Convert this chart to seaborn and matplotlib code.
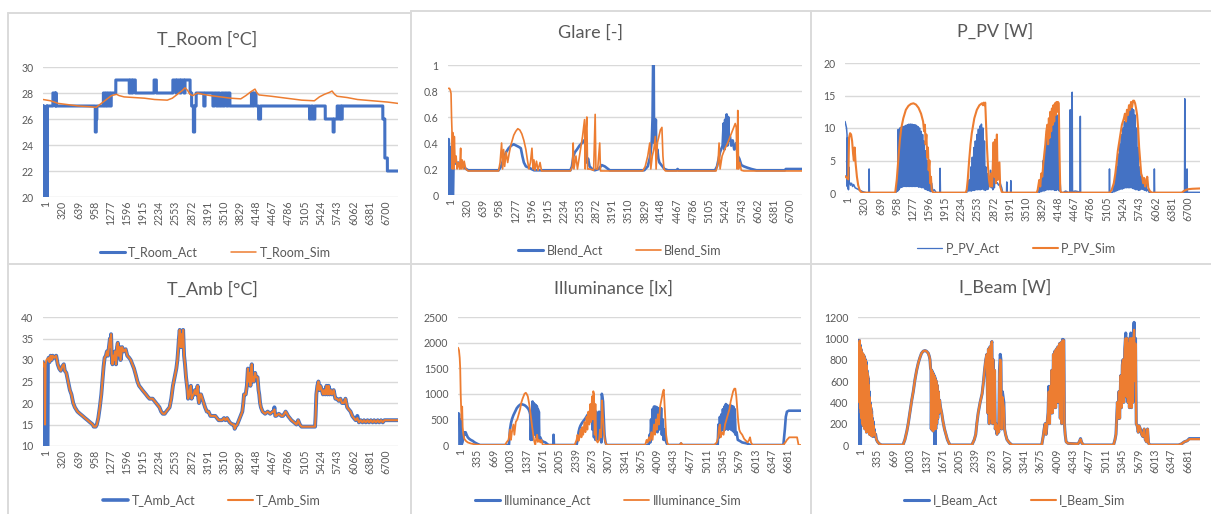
import matplotlib
matplotlib.use("Agg")
import matplotlib.pyplot as plt
import seaborn as sns
from matplotlib.lines import Line2D
from matplotlib.transforms import ScaledTranslation

# ---------------- data (sample index, value) ----------------
troom_act = [(1,27),(5,27),(6,26),(12,26),(13,27),(18,27),(19,20),(70,20),(71,27),(75,27),(76,20),(85,20),(86,27),
    (195,27),(196,28),(240,28),(241,27),(250,27),(251,28),(260,28),(261,27),
    (1030,27),(1031,25),(1050,25),(1051,26),(1062,26),(1063,27),
    (1190,27),(1191,28),(1215,28),(1216,27),(1240,27),(1241,28),(1265,28),(1266,27),(1290,27),(1291,28),(1320,28),(1321,27),(1345,27),(1346,28),
    (1435,28),(1436,29),(1700,29),(1701,28),(1720,28),(1721,29),(1750,29),(1751,28),(1770,28),(1771,29),(1820,29),(1821,28),
    (2190,28),(2191,29),(2235,29),(2236,28),
    (2560,28),(2561,29),(2620,29),(2621,28),(2640,28),(2641,29),(2700,29),(2701,28),(2720,28),(2721,29),(2780,29),(2781,28),(2800,28),(2801,29),(2900,29),(2901,28),
    (2930,28),(2931,27),(2965,27),(2966,25),(2990,25),(2991,27),(3020,27),(3021,28),
    (3170,28),(3171,27),(3195,27),(3196,28),
    (3350,28),(3351,27),(3380,27),(3381,28),(3420,28),(3421,27),(3450,27),(3451,28),(3480,28),(3481,27),(3520,27),(3521,28),(3550,28),(3551,27),(3580,27),(3581,28),(3620,28),(3621,27),(3650,27),(3651,28),(3685,28),(3686,27),
    (4110,27),(4111,28),(4140,28),(4141,27),(4160,27),(4161,28),(4200,28),(4201,27),
    (4250,27),(4251,26),(4290,26),(4291,27),
    (5255,27),(5256,26),(5290,26),(5291,27),(5320,27),(5321,26),(5360,26),(5361,27),(5390,27),
    (5565,27),(5566,26),(5720,26),(5721,25),(5740,25),(5741,26),(5800,26),(5801,27),(5830,27),(5831,26),(5860,26),(5861,27),(5880,27),(5881,26),(5900,26),(5901,27),
    (6700,27),(6701,26),(6740,26),(6741,23),(6790,23),(6791,22),(7000,22)]

troom_sim = [(1,27.5),(150,27.4),(300,27.2),(500,27.1),(700,27.0),(900,26.95),(1050,26.9),(1150,27.2),(1250,27.5),(1350,27.8),
    (1450,27.9),(1500,27.8),(1600,27.7),(1800,27.65),(2000,27.6),(2200,27.5),(2450,27.45),(2550,27.6),(2650,27.9),(2750,28.2),
    (2800,28.4),(2850,28.2),(2900,27.9),(2950,27.8),(3050,28.0),(3150,27.9),(3300,27.8),(3500,27.7),(3700,27.6),(3900,27.55),
    (4000,27.8),(4100,28.1),(4180,28.3),(4220,28.0),(4260,27.85),(4500,27.75),(4800,27.6),(5100,27.45),(5350,27.4),(5450,27.7),
    (5550,27.9),(5650,28.05),(5700,28.15),(5750,27.9),(5800,27.75),(6000,27.65),(6200,27.5),(6500,27.4),(6800,27.3),(7000,27.2)]

glare_act = [(1,0.19),(10,0.19),(14,0.43),(20,0.37),(26,0.0),(30,0.37),(34,0.0),(40,0.35),(46,0.0),(52,0.3),(58,0.0),(64,0.3),(70,0.0),
    (76,0.25),(82,0.0),(100,0.0),(110,0.25),(130,0.26),(160,0.24),(200,0.25),(260,0.23),(320,0.21),(400,0.19),
    (1000,0.19),(1050,0.22),(1100,0.28),(1150,0.33),(1200,0.36),(1250,0.38),(1300,0.39),(1350,0.38),(1400,0.37),(1440,0.36),
    (1470,0.3),(1500,0.25),(1540,0.22),(1600,0.21),(1700,0.19),
    (2420,0.19),(2450,0.22),(2480,0.3),(2510,0.33),(2550,0.35),(2600,0.38),(2650,0.40),(2690,0.42),(2720,0.38),(2740,0.25),
    (2770,0.28),(2800,0.22),(2850,0.2),(2900,0.19),(2980,0.2),(3040,0.23),(3100,0.22),(3200,0.19),
    (3880,0.19),(3950,0.22),(4000,0.3),(4030,0.42),(4045,0.6),(4055,1.0),(4068,1.0),(4075,0.4),(4085,0.58),(4100,0.45),(4110,0.58),
    (4120,0.3),(4140,0.35),(4160,0.28),(4180,0.25),(4220,0.23),(4280,0.2),(4350,0.19),(4520,0.19),(4540,0.2),(4560,0.19),
    (5280,0.19),(5320,0.22),(5380,0.33),(5430,0.38),(5450,0.55),(5465,0.35),(5480,0.58),(5495,0.4),(5510,0.62),(5525,0.38),
    (5540,0.6),(5555,0.42),(5575,0.45),(5600,0.38),(5630,0.42),(5660,0.35),(5700,0.4),(5730,0.3),(5760,0.28),(5800,0.23),
    (5850,0.22),(5920,0.21),(6000,0.2),(6100,0.19),(6660,0.19),(6680,0.2),(7000,0.2)]

glare_sim = [(1,0.82),(30,0.82),(50,0.80),(60,0.78),(70,0.6),(78,0.5),(85,0.2),(95,0.48),(105,0.45),(115,0.2),(125,0.45),(140,0.25),
    (160,0.3),(180,0.2),(200,0.25),(230,0.2),(250,0.36),(260,0.2),(280,0.27),(300,0.2),(320,0.26),(350,0.2),(400,0.185),
    (1000,0.185),(1030,0.25),(1060,0.4),(1080,0.2),(1100,0.35),(1120,0.22),(1150,0.33),(1180,0.25),(1210,0.32),(1240,0.38),
    (1270,0.42),(1300,0.46),(1340,0.49),(1380,0.51),(1420,0.5),(1460,0.47),(1500,0.42),(1540,0.35),(1570,0.27),(1600,0.2),
    (1630,0.25),(1660,0.36),(1680,0.2),(1700,0.27),(1720,0.19),(1750,0.26),(1780,0.19),(1820,0.25),(1850,0.185),
    (2420,0.185),(2460,0.22),(2475,0.4),(2490,0.2),(2530,0.3),(2560,0.2),(2620,0.35),(2660,0.45),(2700,0.58),(2712,0.2),
    (2730,0.5),(2745,0.6),(2760,0.2),(2800,0.2),(2880,0.19),(2910,0.62),(2925,0.2),(2960,0.2),(3000,0.4),(3015,0.185),(3100,0.185),
    (3850,0.185),(3900,0.22),(3950,0.3),(3990,0.4),(4010,0.2),(4040,0.3),(4070,0.35),(4100,0.45),(4115,0.2),(4140,0.4),
    (4170,0.45),(4200,0.5),(4230,0.52),(4250,0.3),(4270,0.2),(4300,0.185),
    (5300,0.185),(5340,0.25),(5360,0.4),(5380,0.2),(5420,0.3),(5470,0.35),(5530,0.4),(5580,0.45),(5630,0.5),(5680,0.55),
    (5700,0.52),(5715,0.2),(5730,0.65),(5745,0.2),(5770,0.25),(5800,0.19),(5850,0.185),(7000,0.185)]

pv_act = [(1,11),(15,10.5),(30,10),(40,9),(45,1),(50,8.5),(55,0.8),(62,7),(68,0.5),(75,4),(82,1.5),(95,1.6),(110,1.2),(130,1.5),
    (150,1.0),(170,1.3),(200,0.8),(250,0.6),(300,0.4),(350,0.2),(420,0.05),(470,0.05),(475,3.7),(482,0.05),
    (1000,0.05),(1020,0.3),(1030,2),(1040,0.3),(1050,9.8),(1065,0.5),(1080,10),(1095,0.8),(1110,10.1),(1125,0.9),(1140,10.2),
    (1155,1),(1170,10.3),(1185,1),(1200,10.4),(1215,1),(1230,10.5),(1245,1),(1260,10.6),(1275,1),(1290,10.6),(1305,1),
    (1320,10.6),(1335,1),(1350,10.5),(1365,1),(1380,10.5),(1395,1),(1410,10.4),(1425,1),(1440,10.2),(1455,0.9),(1470,10),
    (1485,0.9),(1500,9.5),(1515,0.8),(1530,9),(1545,0.8),(1560,8),(1575,0.6),(1590,6.5),(1605,0.5),(1620,5),(1635,0.4),
    (1650,3.5),(1665,0.3),(1680,2.5),(1695,0.2),(1710,1.5),(1730,0.3),(1760,0.5),(1800,0.05),(1870,0.05),(1875,3.8),(1882,0.05),
    (2400,0.05),(2420,1),(2435,0.3),(2450,2),(2465,0.3),(2480,4),(2495,0.3),(2510,5.5),(2525,0.4),(2540,7),(2555,0.4),
    (2570,8),(2585,0.5),(2600,9),(2615,0.5),(2630,9.8),(2645,0.5),(2660,10.3),(2675,0.5),(2690,10.6),(2705,0.6),(2720,10),
    (2735,0.5),(2750,8),(2765,0.4),(2780,4),(2795,0.5),(2810,3),(2825,0.6),(2840,2),(2855,1),(2870,3.5),(2885,0.8),
    (2900,1.5),(2915,0.5),(2930,3),(2945,0.8),(2960,2.5),(2975,1.5),(3000,1.6),(3030,1.2),(3060,1.5),(3090,0.8),(3110,0.05),
    (3185,0.05),(3190,1.7),(3196,0.05),(3265,0.05),(3270,1.9),(3276,0.05),
    (3800,0.05),(3820,0.5),(3835,0.1),(3850,1.5),(3865,0.2),(3880,3),(3895,0.3),(3910,5),(3925,0.3),(3940,7),(3955,0.4),
    (3970,9),(3985,0.5),(4000,10),(4015,0.5),(4030,11),(4045,0.5),(4060,12),(4075,0.5),(4090,12),(4105,0.5),(4120,12),
    (4135,0.4),(4150,12),(4165,0.4),(4180,12),(4195,0.5),(4210,11),(4225,0.3),(4240,2),(4255,0.1),(4300,0.05),(4350,0.3),
    (4400,0.1),(4435,0.1),(4440,12.8),(4446,0.2),(4475,0.2),(4480,15.5),(4486,0.2),(4540,0.3),(4600,0.2),(4635,0.05),
    (4640,11.8),(4646,0.05),
    (5210,0.05),(5215,3.7),(5221,0.05),(5280,0.1),(5300,1),(5315,0.2),(5330,2.5),(5345,0.3),(5360,4),(5375,0.4),(5390,6),
    (5405,0.5),(5420,7.5),(5435,0.6),(5450,9),(5465,0.6),(5480,10),(5495,0.7),(5510,11),(5525,0.8),(5540,12),(5555,0.8),
    (5570,12.5),(5585,0.8),(5600,13),(5615,0.8),(5630,13),(5645,0.8),(5660,13),(5675,0.7),(5690,12.8),(5705,0.6),(5720,12),
    (5735,0.5),(5750,10),(5765,0.5),(5780,7),(5795,0.4),(5810,4),(5825,0.5),(5840,2.5),(5855,0.6),(5870,2),(5885,0.5),
    (5900,1.8),(5915,0.4),(5930,1.5),(5945,0.3),(5970,0.6),(6000,0.05),(6095,0.05),(6100,3.7),(6106,0.05),
    (6695,0.05),(6700,14.5),(6706,0.1),(6740,0.1),(6745,3.7),(6751,0.1),(7000,0.1)]

pv_sim = [(1,2.6),(40,2.3),(65,2.1),(80,8.5),(100,9.2),(120,9),(140,8),(160,6),(175,5),(190,7),(210,4.5),(235,2.5),(260,1.2),
    (290,0.4),(330,0.05),
    (990,0.05),(1020,2),(1050,5),(1080,8),(1110,10),(1150,11.5),(1200,12.8),(1250,13.4),(1300,13.7),(1350,13.8),(1400,13.6),
    (1450,13.1),(1500,12.2),(1540,11),(1560,9.5),(1575,10.5),(1590,7.5),(1605,9),(1620,5.5),(1635,7),(1650,3.5),(1665,5),
    (1680,1.5),(1695,2.5),(1710,0.5),(1740,0.05),
    (2380,0.05),(2400,0.5),(2420,2),(2448,5),(2475,7.5),(2500,9.2),(2550,11.5),(2600,12.8),(2650,13.5),(2700,13.8),(2720,13.5),
    (2735,13.9),(2750,13.5),(2765,13.9),(2780,11),(2800,7),(2820,4),(2840,2),(2860,1),(2880,3),(2900,1),(2930,7.8),(2945,2.5),
    (2960,8.2),(2975,1.5),(2995,9),(3010,2),(3045,4.7),(3060,1),(3090,0.2),(3120,0.05),
    (3780,0.05),(3800,0.5),(3830,2),(3850,1),(3870,3),(3890,2.5),(3910,4.5),(3930,6),(3950,7.5),(3970,9.5),(3990,10.5),
    (4005,7.5),(4020,11.5),(4035,8.5),(4050,12.5),(4065,9.5),(4080,13),(4095,10.5),(4110,13.5),(4125,11),(4140,13.8),
    (4155,12),(4170,14),(4185,12.5),(4200,14),(4215,13.8),(4230,6),(4245,0.3),(4270,0.05),
    (5220,0.05),(5260,0.5),(5300,1.5),(5330,3),(5360,5),(5380,6.5),(5400,7.5),(5420,8.5),(5440,9.5),(5460,10.5),(5480,11),
    (5500,11.5),(5520,12.2),(5540,11),(5560,12.8),(5580,12),(5600,13.5),(5620,12.8),(5640,14),(5660,13.2),(5680,14.2),
    (5700,14.2),(5720,13.8),(5740,13),(5760,12),(5780,10),(5800,7),(5820,5),(5840,3),(5860,2.5),(5880,1.5),(5900,2.3),
    (5920,1),(5940,1.8),(5960,2.5),(5980,0.8),(6010,0.3),(6050,0.05),
    (6640,0.05),(6680,0.3),(6730,0.5),(6780,0.6),(6850,0.65),(7000,0.7)]

tamb_act = [(1,29.5),(20,28.5),(30,29),(38,10),(90,10),(96,29),(110,30.5),(130,29.5),(150,31),(170,30),(190,31),(220,30.5),
    (260,31),(290,29),(320,28),(350,27.5),(380,28.5),(410,29),(430,27.5),(460,27),(495,25),(530,23),(561,22),(595,20),(628,19),
    (680,18),(728,17.5),(780,17),(828,16.5),(880,16),(928,15.5),(980,15),(1000,14.5),(1040,14.5),(1062,15),(1090,16.5),
    (1120,19),(1150,22),(1170,25),(1195,28.5),(1215,30.5),(1240,31),(1260,32),(1280,31),(1300,33),(1320,35),(1335,33),
    (1342,36),(1355,31),(1370,29),(1385,31),(1400,30),(1420,32),(1440,29),(1460,33),(1475,34),(1490,31),(1510,33),(1530,30),
    (1560,33),(1590,32),(1630,32.5),(1662,31),(1700,30.5),(1729,30),(1762,29),(1795,28),(1830,26.5),(1862,25),(1895,24),
    (1929,23.5),(1960,23),(1995,22.5),(2030,22),(2062,21.5),(2100,21),(2162,21),(2229,20),(2260,19.5),(2296,19),(2330,18),
    (2362,17.5),(2400,17.5),(2429,18),(2462,18.5),(2496,19),(2529,21),(2562,24),(2595,26),(2629,28),(2650,30),(2663,32),
    (2680,35),(2696,37),(2715,33),(2730,36),(2745,33),(2763,37),(2782,31),(2800,29),(2820,26),(2849,23),(2860,21),(2876,21.5),
    (2895,23),(2916,24),(2930,21),(2943,21.5),(2970,22),(2996,23),(3020,22),(3049,24),(3063,21),(3076,20),(3100,22),(3116,22),
    (3143,21),(3170,20),(3196,19),(3230,18),(3264,18),(3300,17),(3330,17),(3397,17),(3430,16.5),(3463,16),(3530,16),
    (3570,16.5),(3597,16),(3630,16.5),(3680,15.5),(3730,15),(3764,15),(3780,14),(3797,14.5),(3830,15),(3864,16),(3897,17),
    (3930,18),(3950,20),(3964,22),(3997,22),(4020,24),(4040,28),(4055,25),(4070,27),(4090,24),(4105,28),(4117,29),(4130,25),
    (4143,26),(4160,25),(4183,27),(4200,26),(4230,26),(4250,23),(4264,22),(4280,20),(4297,19),(4330,18),(4380,17.5),
    (4430,18),(4480,17.5),(4530,18),(4550,18),(4563,19),(4580,17),(4597,17),(4650,17.5),(4700,17),(4731,17),(4760,17.5),
    (4784,18),(4810,17.5),(4831,17),(4865,16.5),(4898,16),(4950,15.5),(4998,15),(5031,16),(5064,15),(5098,14.5),(5150,14.5),
    (5200,14.5),(5250,14.5),(5300,14.5),(5364,14.5),(5375,17),(5390,22),(5410,24),(5431,25),(5450,23),(5470,24),(5497,23),
    (5520,22),(5545,23),(5564,22),(5590,24),(5610,22),(5631,24),(5650,22),(5675,23),(5698,22),(5731,23),(5765,21),(5798,21),
    (5830,20.5),(5864,21),(5897,20),(5931,20),(5964,21),(5998,19),(6030,18.5),(6065,18),(6098,17),(6130,16.5),(6165,16),
    (6198,17),(6230,15.5),(6265,16),(6300,15.5),(6330,16),(6365,15.5),(6399,16),(6430,15.5),(6465,16),(6500,15.5),(6530,16),
    (6565,15.5),(6600,16),(6630,15.5),(6665,16),(6700,15.5),(6732,16),(7000,16)]

tamb_sim = [(1,29.5),(20,28.5),(30,29),(40,15),(50,29),(70,30),(110,30.5),(130,29.5),(150,31),(170,30),(190,31),(220,30.5),
    (260,31),(290,29),(320,28),(350,27.5),(380,28.5),(410,29),(430,27.5),(460,27),(495,25),(530,23),(561,22),(595,20),(628,19),
    (680,18),(728,17.5),(780,17),(828,16.5),(880,16),(928,15.5),(980,15),(1000,14.5),(1040,14.5),(1062,15),(1090,16.5),
    (1120,19),(1150,22),(1170,25),(1195,28.5),(1215,30.5),(1240,31),(1260,32),(1280,31),(1300,33),(1320,35),(1335,33),
    (1342,36),(1355,31),(1370,29),(1385,31),(1400,30),(1420,32),(1440,29),(1460,33),(1475,34),(1490,31),(1510,33),(1530,30),
    (1560,33),(1590,32),(1630,32.5),(1662,31),(1700,30.5),(1729,30),(1762,29),(1795,28),(1830,26.5),(1862,25),(1895,24),
    (1929,23.5),(1960,23),(1995,22.5),(2030,22),(2062,21.5),(2100,21),(2162,21),(2229,20),(2260,19.5),(2296,19),(2330,18),
    (2362,17.5),(2400,17.5),(2429,18),(2462,18.5),(2496,19),(2529,21),(2562,24),(2595,26),(2629,28),(2650,30),(2663,32),
    (2680,35),(2696,37),(2715,33),(2730,36),(2745,33),(2763,37),(2782,31),(2800,29),(2820,26),(2849,23),(2860,21),(2876,21.5),
    (2895,23),(2916,24),(2930,21),(2943,21.5),(2970,22),(2996,23),(3020,22),(3049,24),(3063,21),(3076,20),(3100,22),(3116,22),
    (3143,21),(3170,20),(3196,19),(3230,18),(3264,18),(3300,17),(3330,17),(3397,17),(3430,16.5),(3463,16),(3530,16),
    (3570,16.5),(3597,16),(3630,16.5),(3680,15.5),(3730,15),(3764,15),(3780,14),(3797,14.5),(3830,15),(3864,16),(3897,17),
    (3930,18),(3950,20),(3964,22),(3997,22),(4020,24),(4040,28),(4055,25),(4070,27),(4090,24),(4105,28),(4117,29),(4130,25),
    (4143,26),(4160,25),(4183,27),(4200,26),(4230,26),(4250,23),(4264,22),(4280,20),(4297,19),(4330,18),(4380,17.5),
    (4430,18),(4480,17.5),(4530,18),(4550,18),(4563,18.5),(4580,17),(4597,17),(4650,17.5),(4700,17),(4731,17),(4760,17.5),
    (4784,18),(4810,17.5),(4831,17),(4865,16.5),(4898,16),(4950,15.5),(4998,15),(5031,16),(5064,15),(5098,14.5),(5150,14.5),
    (5200,14.5),(5250,14.5),(5300,14.5),(5364,14.5),(5375,17),(5390,22),(5410,24),(5431,25),(5450,23),(5470,24),(5497,23),
    (5520,22),(5545,23),(5564,22),(5590,24),(5610,22),(5631,24),(5650,22),(5675,23),(5698,22),(5731,23),(5765,21),(5798,21),
    (5830,20.5),(5864,21),(5897,20),(5931,20),(5964,21),(5998,19),(6030,18.5),(6065,18),(6098,17),(6130,16.5),(6165,16),
    (6198,16.5),(6230,15.5),(6265,16),(6300,15.5),(6330,16),(6365,15.5),(6399,16),(6430,15.5),(6465,16),(6500,15.5),(6530,16),
    (6565,15.5),(6600,16),(6630,15.5),(6665,16),(6700,15.5),(6732,16),(7000,16)]

illum_act = [(1,550),(10,620),(25,600),(32,0),(45,0),(50,500),(62,480),(70,0),(90,50),(110,150),(125,250),(140,200),(155,250),
    (175,200),(200,150),(230,120),(260,100),(300,80),(340,50),(400,20),(450,0),
    (1040,0),(1060,300),(1080,420),(1100,500),(1130,580),(1165,650),(1200,720),(1234,760),(1270,790),(1302,795),(1340,785),
    (1371,770),(1405,740),(1439,700),(1460,650),(1473,600),(1485,100),(1500,500),(1510,100),(1521,850),(1532,300),(1542,820),
    (1552,200),(1562,800),(1575,250),(1590,780),(1600,150),(1610,750),(1620,180),(1631,700),(1640,100),(1650,650),(1660,120),
    (1679,150),(1700,100),(1713,80),(1750,60),(1782,50),(1820,20),(1850,0),(1945,0),(1950,200),(1958,0),
    (2420,0),(2440,100),(2460,250),(2480,330),(2500,380),(2530,430),(2570,480),(2600,520),(2638,580),(2670,620),(2707,680),
    (2730,700),(2745,300),(2760,660),(2775,150),(2790,700),(2805,100),(2820,650),(2835,150),(2850,500),(2865,100),(2880,650),
    (2895,200),(2912,500),(2925,50),(2935,1000),(2945,950),(2960,850),(2975,500),(2990,200),(3010,50),(3030,0),
    (3890,0),(3910,200),(3925,50),(3940,500),(3955,150),(3970,700),(3985,300),(4000,750),(4015,250),(4028,750),(4042,300),
    (4056,740),(4070,250),(4085,720),(4100,300),(4115,700),(4130,350),(4145,720),(4160,200),(4179,500),(4195,100),(4210,300),
    (4234,100),(4260,30),(4282,0),(4530,0),(4550,30),(4570,0),
    (5300,0),(5315,400),(5330,150),(5345,550),(5360,250),(5377,600),(5392,300),(5407,700),(5422,280),(5437,750),(5452,300),
    (5467,800),(5482,320),(5497,780),(5512,300),(5527,750),(5542,320),(5557,780),(5572,300),(5587,760),(5603,280),(5618,750),
    (5633,250),(5648,700),(5665,200),(5686,250),(5710,100),(5750,80),(5800,50),(5850,40),(5900,30),(5960,0),
    (6640,0),(6670,300),(6690,550),(6713,650),(6750,670),(7000,670)]

illum_sim = [(1,1900),(20,1850),(35,1700),(45,1500),(55,1000),(65,700),(75,500),(85,750),(95,350),(110,200),(130,120),(160,80),
    (200,50),(260,30),(350,10),(450,0),
    (960,0),(990,50),(1030,100),(1063,300),(1080,100),(1100,250),(1131,400),(1150,200),(1179,450),(1210,500),(1240,600),
    (1268,700),(1290,820),(1316,900),(1340,960),(1357,1000),(1384,1020),(1405,990),(1425,950),(1453,800),(1475,650),(1494,500),
    (1510,380),(1528,250),(1550,100),(1576,0),(1600,150),(1615,200),(1630,60),(1650,100),(1680,50),(1700,100),(1730,0),
    (2380,0),(2420,100),(2440,200),(2460,80),(2480,150),(2500,300),(2520,150),(2535,350),(2555,200),(2580,450),(2600,250),
    (2625,550),(2640,300),(2660,650),(2680,400),(2700,800),(2715,450),(2735,950),(2750,500),(2761,1050),(2775,1000),(2790,200),
    (2805,800),(2820,100),(2850,50),(2880,100),(2900,300),(2920,150),(2940,870),(2955,600),(2975,300),(2995,100),(3030,0),
    (3820,0),(3850,100),(3870,50),(3900,150),(3920,80),(3945,250),(3970,100),(4000,400),(4020,200),(4042,500),(4060,300),
    (4080,600),(4100,400),(4124,750),(4145,850),(4165,950),(4185,1050),(4200,1080),(4215,800),(4230,500),(4247,200),(4270,50),
    (4290,0),(4530,0),(4555,40),(4580,0),
    (5230,0),(5280,50),(5310,150),(5330,350),(5345,400),(5360,150),(5390,250),(5420,200),(5450,400),(5480,500),(5510,600),
    (5540,700),(5565,850),(5590,950),(5615,1050),(5640,1100),(5660,1100),(5680,950),(5700,700),(5720,450),(5740,300),
    (5760,250),(5800,200),(5840,120),(5880,80),(5910,50),(5940,100),(5960,150),(5980,50),(6010,0),
    (6640,0),(6680,50),(6713,100),(6760,150),(6880,150),(6920,150),(6950,0),(7000,0)]

ibeam_act = [(1,980),(8,750),(12,950),(18,450),(22,0),(28,980),(34,300),(40,940),(46,0),(52,0),(58,900),(64,250),(70,880),
    (78,200),(86,860),(94,220),(102,850),(110,180),(118,840),(126,200),(134,820),(142,150),(150,800),(158,180),(166,780),
    (174,120),(182,700),(190,200),(198,650),(206,150),(214,620),(222,120),(230,500),(238,100),(246,400),(254,120),(262,350),
    (270,90),(278,320),(286,100),(294,250),(302,80),(310,220),(320,100),(330,150),(345,80),(360,100),(378,50),(400,30),
    (440,10),(480,0),
    (920,0),(960,50),(1000,130),(1028,200),(1060,300),(1100,420),(1131,500),(1165,610),(1200,700),(1235,770),(1268,820),
    (1300,860),(1336,880),(1370,885),(1400,880),(1439,860),(1460,830),(1473,800),(1485,720),(1494,700),(1500,150),(1510,700),
    (1520,140),(1530,680),(1540,130),(1550,660),(1560,150),(1570,640),(1576,0),(1582,620),(1592,150),(1602,600),(1612,200),
    (1622,560),(1632,250),(1645,500),(1658,300),(1670,420),(1690,350),(1713,300),(1740,220),(1770,150),(1800,100),(1830,50),
    (1860,20),(1884,0),
    (2330,0),(2380,50),(2410,100),(2432,200),(2460,300),(2500,400),(2540,480),(2570,600),(2590,700),(2615,800),(2638,850),
    (2655,300),(2670,900),(2685,200),(2700,920),(2715,250),(2730,950),(2741,970),(2755,200),(2765,800),(2780,250),(2795,700),
    (2809,150),(2825,200),(2845,100),(2860,180),(2880,120),(2895,700),(2912,850),(2925,800),(2940,150),(2955,500),(2970,450),
    (2985,400),(3000,150),(3020,100),(3050,50),(3100,20),(3152,0),
    (3760,0),(3790,80),(3810,150),(3830,200),(3850,100),(3870,200),(3890,300),(3905,550),(3920,200),(3935,550),(3950,300),
    (3965,700),(3980,300),(4000,850),(4014,350),(4030,880),(4045,350),(4060,900),(4075,400),(4090,920),(4105,400),(4124,950),
    (4140,250),(4155,960),(4170,200),(4185,990),(4200,980),(4213,985),(4225,200),(4240,100),(4260,30),(4300,15),(4500,10),
    (4530,30),(4555,60),(4580,20),(4620,0),
    (5230,0),(5260,50),(5280,100),(5300,300),(5309,400),(5325,250),(5340,500),(5355,250),(5377,650),(5392,350),(5410,750),
    (5425,800),(5440,400),(5460,900),(5480,1050),(5495,450),(5510,1000),(5525,400),(5540,950),(5555,350),(5570,1000),
    (5583,1050),(5598,350),(5612,1000),(5626,400),(5640,1050),(5651,1150),(5665,600),(5680,1000),(5695,200),(5715,180),
    (5735,120),(5754,180),(5780,150),(5805,100),(5830,80),(5857,150),(5880,50),(5905,30),(5926,150),(5945,20),(5970,0),
    (6560,0),(6620,10),(6680,30),(6740,40),(6781,60),(7000,60)]

ibeam_sim = [(1,950),(8,750),(12,950),(18,450),(24,900),(30,400),(36,980),(42,350),(50,920),(58,300),(64,900),(70,250),
    (78,870),(86,200),(94,860),(102,180),(110,850),(118,200),(126,830),(134,150),(142,810),(150,180),(158,790),(166,120),
    (174,750),(182,200),(190,680),(198,150),(206,640),(214,120),(222,560),(230,100),(238,450),(246,120),(254,380),(262,90),
    (270,330),(278,100),(286,280),(294,80),(302,230),(310,100),(320,180),(330,100),(345,120),(360,80),(378,50),(400,30),
    (440,10),(480,0),
    (920,0),(960,50),(1000,130),(1028,200),(1060,300),(1100,420),(1131,500),(1165,610),(1200,700),(1235,770),(1268,820),
    (1300,860),(1336,880),(1370,885),(1400,880),(1439,860),(1460,830),(1473,800),(1485,720),(1494,700),(1500,150),(1510,700),
    (1520,140),(1530,680),(1540,130),(1550,660),(1560,150),(1570,640),(1576,150),(1582,620),(1592,150),(1602,600),(1612,200),
    (1622,560),(1632,250),(1645,500),(1658,300),(1670,420),(1690,350),(1713,300),(1740,220),(1770,150),(1800,100),(1830,50),
    (1860,20),(1884,0),
    (2330,0),(2380,50),(2410,100),(2432,200),(2460,300),(2500,400),(2540,480),(2570,600),(2590,700),(2615,800),(2638,850),
    (2655,300),(2670,900),(2685,200),(2700,920),(2715,250),(2730,950),(2741,970),(2755,200),(2765,800),(2780,250),(2795,700),
    (2809,150),(2825,200),(2845,100),(2860,180),(2880,120),(2895,650),(2912,800),(2925,750),(2940,150),(2955,450),(2970,400),
    (2985,350),(3000,150),(3020,100),(3050,50),(3100,20),(3152,0),
    (3760,0),(3790,80),(3810,150),(3830,200),(3850,100),(3870,200),(3890,300),(3905,500),(3920,200),(3935,550),(3950,300),
    (3965,700),(3980,300),(4000,850),(4014,350),(4030,880),(4045,350),(4060,900),(4075,400),(4090,920),(4105,400),(4124,950),
    (4140,250),(4155,960),(4170,200),(4185,980),(4200,975),(4213,980),(4225,200),(4240,100),(4260,30),(4300,15),(4500,10),
    (4530,30),(4555,55),(4580,20),(4620,0),
    (5230,0),(5260,50),(5280,100),(5300,300),(5309,400),(5325,250),(5340,500),(5355,250),(5377,650),(5392,350),(5410,750),
    (5425,800),(5440,400),(5460,900),(5480,1000),(5495,450),(5510,1000),(5525,400),(5540,950),(5555,350),(5570,1000),
    (5583,1000),(5598,350),(5612,1000),(5626,400),(5640,1000),(5651,1080),(5665,600),(5680,950),(5695,200),(5715,180),
    (5735,120),(5754,180),(5780,150),(5805,100),(5830,80),(5857,150),(5880,50),(5905,30),(5926,150),(5945,20),(5970,0),
    (6560,0),(6620,10),(6680,30),(6740,40),(6781,55),(7000,55)]

titles = ["T_Room [°C]", "Glare [-]", "P_PV [W]", "T_Amb [°C]", "Illuminance [lx]", "I_Beam [W]"]
legend_labels = [("T_Room_Act", "T_Room_Sim"), ("Blend_Act", "Blend_Sim"), ("P_PV_Act", "P_PV_Sim"),
                 ("T_Amb_Act", "T_Amb_Sim"), ("Illuminance_Act", "Illuminance_Sim"), ("I_Beam_Act", "I_Beam_Sim")]
y_ticks = [[20, 22, 24, 26, 28, 30], [0, 0.2, 0.4, 0.6, 0.8, 1], [0, 5, 10, 15, 20],
           [10, 15, 20, 25, 30, 35, 40], [0, 500, 1000, 1500, 2000, 2500], [0, 200, 400, 600, 800, 1000, 1200]]
y_tick_labels = [["20", "22", "24", "26", "28", "30"], ["0", "0.2", "0.4", "0.6", "0.8", "1"], ["0", "5", "10", "15", "20"],
                 ["10", "15", "20", "25", "30", "35", "40"], ["0", "500", "1000", "1500", "2000", "2500"],
                 ["0", "200", "400", "600", "800", "1000", "1200"]]
x_ticks_a = [1, 320, 639, 958, 1277, 1596, 1915, 2234, 2553, 2872, 3191, 3510, 3829, 4148, 4467, 4786, 5105, 5424, 5743,
             6062, 6381, 6700]
x_ticks_b = [1, 335, 669, 1003, 1337, 1671, 2005, 2339, 2673, 3007, 3341, 3675, 4009, 4343, 4677, 5011, 5345, 5679, 6013,
             6347, 6681]

# ---------------- styling ----------------
sns.set_theme(style="white")
plt.rcParams['font.family'] = ['Lato', 'DejaVu Sans']

BLUE = "#4472C4"
ORANGE = "#ED7D31"
GRID = "#D9D9D9"
TXT = "#595959"
W, H = 1211, 514

fig = plt.figure(figsize=(W / 100, H / 100), dpi=100)

panels = [
    dict(series=(troom_act, troom_sim), lw=(2.2, 1.1), hlw=(2.2, 1.1), box=(43, 398, 67, 197), title_xy=(207, 40), leg_xy=(215, 252), xt=x_ticks_a),
    dict(series=(glare_act, glare_sim), lw=(1.9, 1.2), hlw=(2.2, 1.2), box=(448, 802, 65, 195), title_xy=(590, 33), leg_xy=(620, 250), xt=x_ticks_a),
    dict(series=(pv_act, pv_sim), lw=(1.1, 1.5), hlw=(0.9, 1.5), box=(845, 1200, 63, 193), title_xy=(995, 32), leg_xy=(1017, 248), xt=x_ticks_a),
    dict(series=(tamb_act, tamb_sim), lw=(2.8, 1.5), hlw=(2.6, 1.5), box=(43, 398, 317, 446), title_xy=(212, 290), leg_xy=(212, 500), xt=x_ticks_a),
    dict(series=(illum_act, illum_sim), lw=(1.9, 1.3), hlw=(2.2, 1.3), box=(458, 801, 317, 445), title_xy=(613, 289), leg_xy=(608, 500), xt=x_ticks_b),
    dict(series=(ibeam_act, ibeam_sim), lw=(2.2, 1.6), hlw=(2.2, 1.5), box=(858, 1200, 317, 445), title_xy=(1005, 288), leg_xy=(1015, 500), xt=x_ticks_b),
]

for i, p in enumerate(panels):
    L, R, T, B = p["box"]
    ax = fig.add_axes([L / W, 1 - B / H, (R - L) / W, (B - T) / H])
    handles = []
    for series, color, lw, hlw, lab in zip(p["series"], (BLUE, ORANGE), p["lw"], p["hlw"], legend_labels[i]):
        xs = [s[0] for s in series]
        ys = [s[1] for s in series]
        sns.lineplot(x=xs, y=ys, ax=ax, color=color, lw=lw, estimator=None, sort=False, legend=False)
        handles.append(Line2D([], [], color=color, lw=hlw, label=lab))
    ax.set_xlim(0, 7000)
    yt = y_ticks[i]
    ax.set_ylim(yt[0], yt[-1])
    ax.set_yticks(yt)
    ax.set_yticklabels(y_tick_labels[i])
    ax.set_xticks(p["xt"])
    ax.set_xticklabels([str(v) for v in p["xt"]], rotation=90)
    ax.grid(axis="y", color=GRID, lw=1.0)
    ax.grid(axis="x", visible=False)
    ax.set_axisbelow(True)
    for s in ax.spines.values():
        s.set_visible(False)
    ax.tick_params(axis="both", length=0, labelsize=7.6, colors=TXT)
    ax.tick_params(axis="y", pad=7)
    ax.tick_params(axis="x", pad=2.5)
    ax.set_xlabel("")
    ax.set_ylabel("")
    off = ScaledTranslation(3 / 100, 0, fig.dpi_scale_trans)
    for lbl in ax.get_xticklabels():
        lbl.set_transform(lbl.get_transform() + off)
    tx, ty = p["title_xy"]
    fig.text(tx / W, 1 - ty / H, titles[i], ha="center", va="center", fontsize=13, color=TXT)
    lx, ly = p["leg_xy"]
    fig.legend(handles=handles, loc="center", bbox_to_anchor=(lx / W, 1 - ly / H), ncol=2, frameon=False,
               fontsize=9.0, handlelength=2.0, columnspacing=2.6, handletextpad=0.3, labelcolor=TXT,
               borderaxespad=0, borderpad=0)

# panel frames
def fline(x0, y0, x1, y1):
    fig.add_artist(Line2D([x0 / W, x1 / W], [1 - y0 / H, 1 - y1 / H], transform=fig.transFigure,
                          color="#DADADA", lw=1.4))

fline(8, 13, 8, 514)
fline(411, 11, 411, 514)
fline(811, 11, 811, 514)
fline(8, 13, 411, 13)
fline(411, 11, 1211, 11)
fline(8, 264, 1211, 264)

fig.savefig("out.png", dpi=100, facecolor="white")
